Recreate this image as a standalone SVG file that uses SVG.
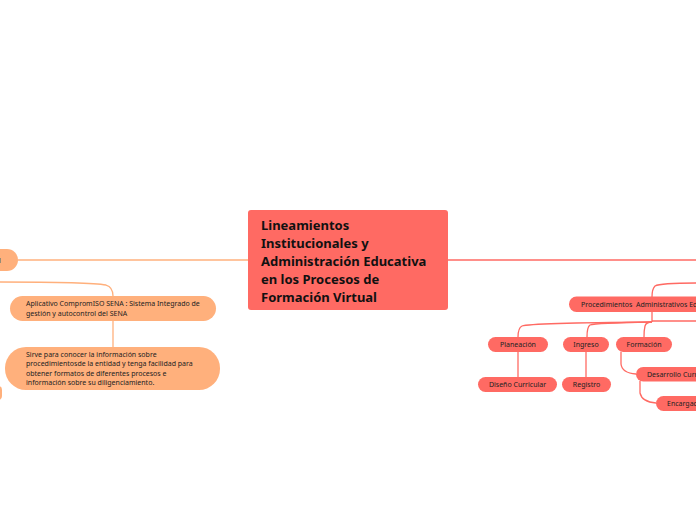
<svg xmlns="http://www.w3.org/2000/svg" width="696" height="520" viewBox="0 0 696 520">
<style>
.red{fill:#ff6a63}
.org{fill:#ffb07c}
.lr{fill:none;stroke:#ff6a63;stroke-width:1.3}
.lo{fill:none;stroke:#ffb07c;stroke-width:1.3}
.t{font-family:"Noto Sans","Open Sans",sans-serif;font-size:7px;fill:#222}
.tc{font-family:"Noto Sans","Open Sans",sans-serif;font-size:7px;fill:#222;text-anchor:middle}
.tb{font-family:"Noto Sans","Open Sans",sans-serif;font-size:13px;font-weight:bold;fill:#111}
</style>
<rect width="696" height="520" fill="#fff"/>
<g id="connectors">
<path class="lo" d="M18 260 H248"/>
<path class="lr" d="M448 260 H696" stroke-width="1.6"/>
<path class="lo" d="M0 282 Q90 282 106 285 Q113 287 113 296"/>
<path class="lo" d="M113 321 V347"/>
<path class="lr" d="M696 283 Q660 283 655 286 Q652 289 652 297"/>
<path class="lr" d="M652 312 V322"/>
<path class="lr" d="M696 321 H652"/>
<path class="lr" d="M652 322 Q530 323 522 326 Q518 328 518 337"/>
<path class="lr" d="M652 322 Q595 323 590 325 Q587 327 587 337"/>
<path class="lr" d="M652 322 Q646 322 645 326 Q644 330 644 337"/>
<path class="lr" d="M518 352 V377"/>
<path class="lr" d="M586 352 V377"/>
<path class="lr" d="M621 352 V364 Q622 373 636 374"/>
<path class="lr" d="M640 381 V393 Q642 402 656 403"/>
</g>
<g id="central">
<rect class="red" x="248" y="210" width="200" height="100" rx="3"/>
<text class="tb" x="261" y="230">Lineamientos</text>
<text class="tb" x="261" y="248">Institucionales y</text>
<text class="tb" x="261" y="266">Administración Educativa</text>
<text class="tb" x="261" y="284">en los Procesos de</text>
<text class="tb" x="261" y="302">Formación Virtual</text>
</g>
<g id="left-node">
<rect class="org" x="-20" y="249" width="38" height="22" rx="11"/>
<text class="t" x="-1" y="263" font-size="9">l</text>
</g>
<g id="aplicativo">
<rect class="org" x="10" y="296" width="206" height="25" rx="12.5"/>
<text class="t" x="26" y="306">Aplicativo CompromISO SENA : Sistema Integrado de</text>
<text class="t" x="26" y="316">gestión y autocontrol del SENA</text>
</g>
<g id="sirve">
<rect class="org" x="5" y="347" width="215" height="43" rx="21"/>
<text class="t" x="26" y="357">Sirve para conocer la información sobre</text>
<text class="t" x="26" y="366">procedimientosde la entidad y tenga facilidad para</text>
<text class="t" x="26" y="376">obtener formatos de diferentes procesos e</text>
<text class="t" x="26" y="385">información sobre su diligenciamiento.</text>
</g>
<g id="left-partial">
<rect class="org" x="-12" y="386" width="14" height="14" rx="4"/>
</g>
<g id="procedimientos">
<rect class="red" x="569" y="296.5" width="150" height="15.5" rx="7.5"/>
<text class="t" x="581" y="307">Procedimientos&#160; Administrativos Ed</text>
</g>
<g id="planeacion">
<rect class="red" x="488" y="337" width="60" height="15" rx="7.5"/>
<text class="tc" x="518" y="347">Planeación</text>
</g>
<g id="ingreso">
<rect class="red" x="563" y="337" width="46" height="15" rx="7.5"/>
<text class="tc" x="586" y="347">Ingreso</text>
</g>
<g id="formacion">
<rect class="red" x="616" y="337" width="56" height="15" rx="7.5"/>
<text class="tc" x="644" y="347">Formación</text>
</g>
<g id="diseno">
<rect class="red" x="478" y="377" width="79" height="15" rx="7.5"/>
<text class="tc" x="517.5" y="387">Diseño Curricular</text>
</g>
<g id="registro">
<rect class="red" x="562" y="377" width="49" height="15" rx="7.5"/>
<text class="tc" x="586.5" y="387">Registro</text>
</g>
<g id="desarrollo">
<rect class="red" x="636" y="367" width="90" height="14.5" rx="7.25"/>
<text class="t" x="647" y="377">Desarrollo Curr</text>
</g>
<g id="encargado">
<rect class="red" x="656" y="396" width="70" height="15" rx="7.5"/>
<text class="t" x="667" y="406">Encargad</text>
</g>
</svg>
